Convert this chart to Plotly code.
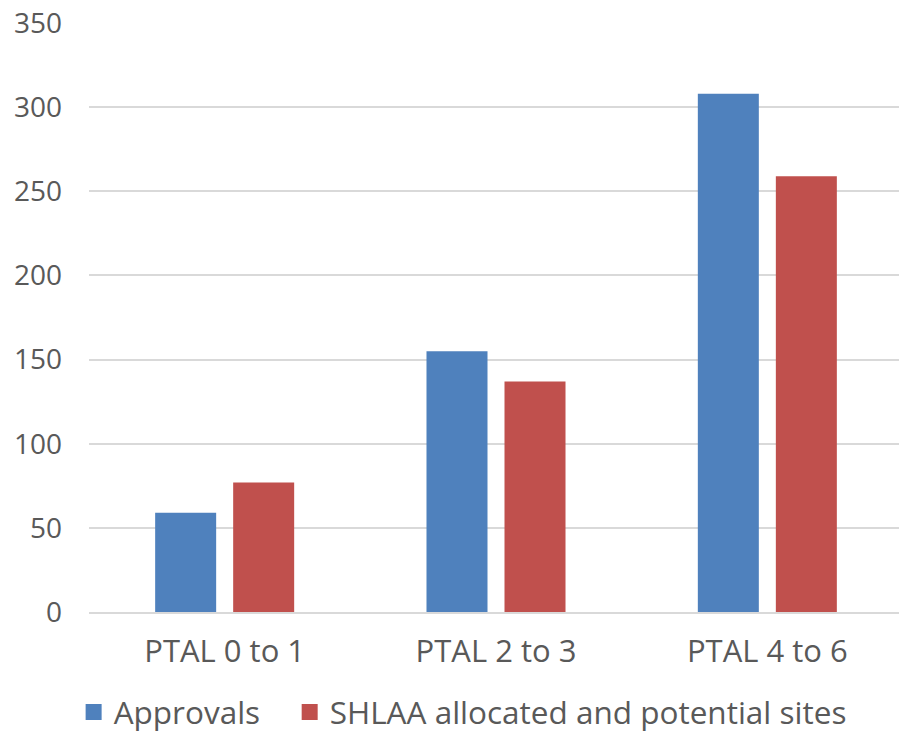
import plotly.graph_objects as go

categories = ["PTAL 0 to 1", "PTAL 2 to 3", "PTAL 4 to 6"]
approvals = [59, 155, 308]
shlaa = [77, 137, 259]
series_names = ["Approvals", "SHLAA allocated and potential sites"]
colors = ["#4F81BD", "#C0504D"]
y_ticks = [0, 50, 100, 150, 200, 250, 300, 350]

fig = go.Figure()
for i, (name, vals, col) in enumerate(zip(series_names, [approvals, shlaa], colors)):
    fig.add_trace(go.Bar(x=categories, y=vals, name=name, marker=dict(color=col, line=dict(width=0)),
                         showlegend=False))
    legend_name = name + ("\u00a0" * 3 if i == 0 else "")
    fig.add_trace(go.Scatter(x=[None], y=[None], mode="markers", name=legend_name,
                             marker=dict(symbol="square", size=20, color=col)))

font_family = "Open Sans, Noto Sans, sans-serif"
fig.update_layout(
    width=903, height=732,
    margin=dict(l=89, r=0, t=23, b=120, autoexpand=False),
    plot_bgcolor="white", paper_bgcolor="white",
    barmode="group", bargap=0.425, bargroupgap=0.218,
    font=dict(family=font_family, color="#595959", size=24),
    xaxis=dict(showgrid=False, showline=True, linecolor="#D9D9D9", linewidth=2,
               tickfont=dict(size=31), ticks="", ticklabelstandoff=11, automargin=False),
    yaxis=dict(range=[0, 350], tickvals=y_ticks, showgrid=True, gridcolor="#D9D9D9",
               gridwidth=2, zeroline=False, showline=False, ticks="",
               tickfont=dict(size=28), ticklabelstandoff=26, automargin=False,
               ticklabeloverflow="allow"),
    legend=dict(orientation="h", x=0.459, xanchor="center", y=-0.17, yanchor="middle",
                font=dict(size=31.5, color="#595959"), itemwidth=30),
)
fig.write_html(
    "out.html",
    config={"displayModeBar": False},
    post_script="document.body.style.margin='0';document.body.style.overflow='hidden';",
)
